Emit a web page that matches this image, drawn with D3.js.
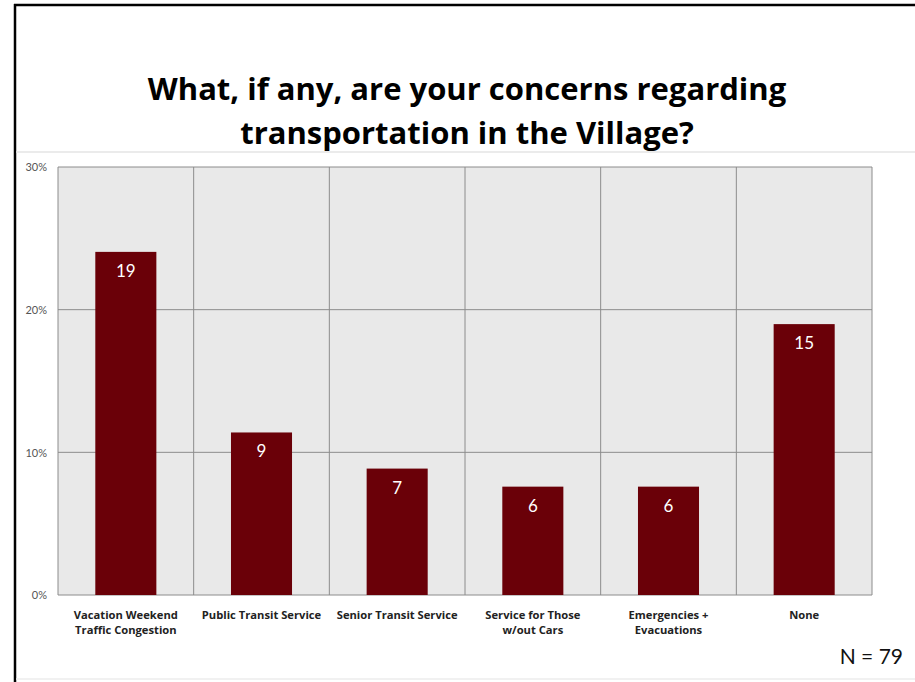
<!DOCTYPE html>
<html>
<head>
<meta charset="utf-8">
<script src="https://cdn.jsdelivr.net/npm/d3@7"></script>
<style>
  html, body { margin: 0; padding: 0; background: #fff; }
  svg { display: block; }
</style>
</head>
<body>
<svg id="chart" width="915" height="682"></svg>
<script>
// Survey responses: concerns about transportation in the Village
const categories = [
  ["Vacation Weekend", "Traffic Congestion"],
  ["Public Transit Service"],
  ["Senior Transit Service"],
  ["Service for Those", "w/out Cars"],
  ["Emergencies +", "Evacuations"],
  ["None"]
];
const counts = [19, 9, 7, 6, 6, 15];
const respondents = 79;
const yTicks = [0, 0.1, 0.2, 0.3];
const titleLines = [
  "What, if any, are your concerns regarding",
  "transportation in the Village?"
];

const shares = counts.map(c => c / respondents);

const svg = d3.select("#chart");
const W = 915, H = 682;

// Slide frame
svg.append("rect").attr("x", 0).attr("y", 0).attr("width", W).attr("height", H).attr("fill", "#fff");
svg.append("line").attr("x1", 15).attr("x2", 15).attr("y1", 4).attr("y2", H)
  .attr("stroke", "#000").attr("stroke-width", 2.5);
svg.append("line").attr("x1", 14).attr("x2", W).attr("y1", 5).attr("y2", 5)
  .attr("stroke", "#000").attr("stroke-width", 2.5);
svg.append("line").attr("x1", 16).attr("x2", W).attr("y1", 152).attr("y2", 152)
  .attr("stroke", "#e4e4e4").attr("stroke-width", 1.5);
svg.append("line").attr("x1", 16).attr("x2", W).attr("y1", 679).attr("y2", 679)
  .attr("stroke", "#ececec").attr("stroke-width", 1.5);

// Title
svg.append("g").selectAll("text").data(titleLines).join("text")
  .attr("x", 467).attr("y", (d, i) => 100 + i * 44)
  .attr("text-anchor", "middle")
  .attr("font-family", "'Open Sans', sans-serif")
  .attr("font-weight", 700)
  .attr("font-size", 31)
  .attr("fill", "#000")
  .text(d => d);

// Plot geometry
const plot = { left: 58, right: 872, top: 167, bottom: 595 };

const x = d3.scaleBand()
  .domain(d3.range(categories.length))
  .range([plot.left, plot.right])
  .paddingInner(0).paddingOuter(0);

const y = d3.scaleLinear().domain([0, 0.3]).range([plot.bottom, plot.top]);

// Plot background
svg.append("rect")
  .attr("x", plot.left).attr("y", plot.top)
  .attr("width", plot.right - plot.left).attr("height", plot.bottom - plot.top)
  .attr("fill", "#e9e9e9");

// Horizontal gridlines
svg.append("g").selectAll("line").data(yTicks).join("line")
  .attr("x1", plot.left).attr("x2", plot.right)
  .attr("y1", d => y(d)).attr("y2", d => y(d))
  .attr("stroke", "#8c8c8c").attr("stroke-width", 1);

// Vertical category dividers
const dividers = d3.range(categories.length + 1).map(i =>
  i < categories.length ? x(i) : x(categories.length - 1) + x.bandwidth());
svg.append("g").selectAll("line").data(dividers).join("line")
  .attr("x1", d => d).attr("x2", d => d)
  .attr("y1", plot.top).attr("y2", plot.bottom)
  .attr("stroke", "#8c8c8c").attr("stroke-width", 1);

// Y axis labels
const yAxis = d3.axisLeft(y).tickValues(yTicks).tickFormat(d3.format(".0%")).tickSize(0).tickPadding(0);
const yg = svg.append("g").attr("transform", `translate(47,0)`).call(yAxis);
yg.select(".domain").remove();
yg.selectAll("text")
  .attr("x", 0).attr("dy", "0.35em")
  .attr("text-anchor", "end")
  .attr("font-family", "'Lato', sans-serif")
  .attr("font-size", 11)
  .attr("fill", "#555");

// Bars
const barW = x.bandwidth() * 0.45;
const barOffset = (x.bandwidth() - barW) / 2;
svg.append("g").selectAll("rect").data(shares).join("rect")
  .attr("x", (d, i) => x(i) + barOffset)
  .attr("y", d => y(d))
  .attr("width", barW)
  .attr("height", d => y(0) - y(d))
  .attr("fill", "#6a0008");

// Count labels inside bars
svg.append("g").selectAll("text").data(counts).join("text")
  .attr("x", (d, i) => x(i) + x.bandwidth() / 2)
  .attr("y", (d, i) => y(shares[i]) + 25)
  .attr("text-anchor", "middle")
  .attr("font-family", "'Lato', sans-serif")
  .attr("font-size", 17)
  .attr("fill", "#fff")
  .text(d => d);

// Category labels
const catG = svg.append("g").selectAll("text").data(categories).join("text")
  .attr("x", (d, i) => x(i) + x.bandwidth() / 2)
  .attr("y", 619)
  .attr("text-anchor", "middle")
  .attr("font-family", "'Open Sans', sans-serif")
  .attr("font-weight", 700)
  .attr("font-size", 11.2)
  .attr("fill", "#222");
catG.selectAll("tspan").data(d => d).join("tspan")
  .attr("x", function () { return d3.select(this.parentNode).attr("x"); })
  .attr("dy", (d, i) => i === 0 ? 0 : 15)
  .text(d => d);

// Respondent count
svg.append("text")
  .attr("x", 903).attr("y", 664)
  .attr("text-anchor", "end")
  .attr("font-family", "'Lato', sans-serif")
  .attr("font-size", 21)
  .attr("fill", "#111")
  .text(`N = ${respondents}`);
</script>
</body>
</html>
